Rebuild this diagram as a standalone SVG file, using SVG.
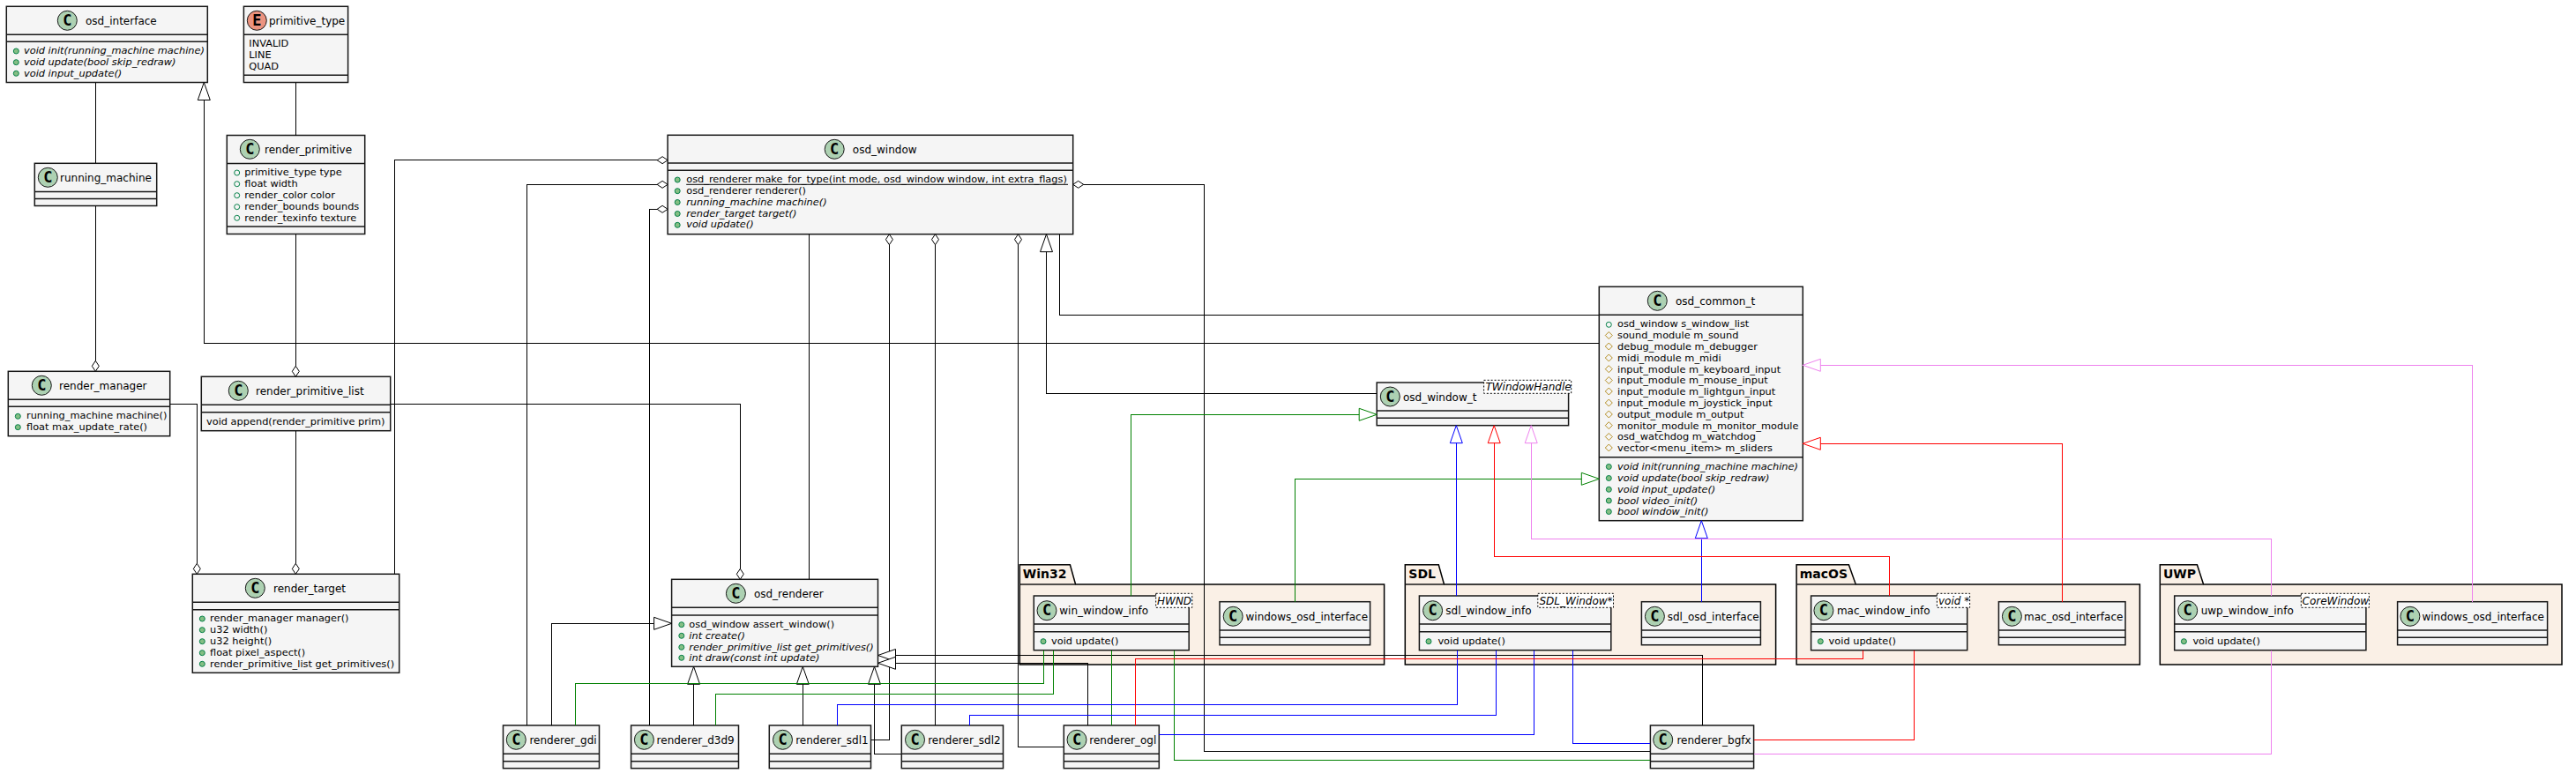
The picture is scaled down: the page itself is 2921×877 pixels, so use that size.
<svg xmlns="http://www.w3.org/2000/svg" width="2921" height="877" viewBox="0 0 2921 877">
<style>
text{font-family:"DejaVu Sans",sans-serif;fill:#000}
.b{fill:#F5F5F5;stroke:#181818;stroke-width:1.5}
.s{fill:none;stroke:#181818;stroke-width:1.5}
.c{fill:#ADD1B2;stroke:#181818;stroke-width:1}
.e{fill:#EB937F;stroke:#181818;stroke-width:1}
.C{font-family:"DejaVu Sans Mono",monospace;font-weight:bold;font-size:17px;text-anchor:middle}
.t{font-size:12px}
.m{font-size:11.35px}
.i{font-size:11.35px;font-style:italic}
.p{font-size:14px;font-weight:bold}
.g{font-size:12px;font-style:italic}
.tb{fill:#fff;stroke:#000;stroke-width:1;stroke-dasharray:2 2}
.k{fill:#FAF0E6;stroke:#000;stroke-width:1.5}
.l{fill:none;stroke-width:1;shape-rendering:crispEdges}
.lk{stroke:#000}.lg{stroke:#008000}.lb{stroke:#0000FF}.lr{stroke:#FF0000}.lv{stroke:#EE82EE}
.u{stroke:#000;stroke-width:1}
</style>
<defs>
<marker id="gk" markerUnits="userSpaceOnUse" markerWidth="24" markerHeight="18" refX="21" refY="8" orient="auto" overflow="visible"><path d="M1 1L21 8L1 15Z" fill="#fff" stroke="#000"/></marker>
<marker id="gg" markerUnits="userSpaceOnUse" markerWidth="24" markerHeight="18" refX="21" refY="8" orient="auto" overflow="visible"><path d="M1 1L21 8L1 15Z" fill="#fff" stroke="#008000"/></marker>
<marker id="gb" markerUnits="userSpaceOnUse" markerWidth="24" markerHeight="18" refX="21" refY="8" orient="auto" overflow="visible"><path d="M1 1L21 8L1 15Z" fill="#fff" stroke="#0000FF"/></marker>
<marker id="gr" markerUnits="userSpaceOnUse" markerWidth="24" markerHeight="18" refX="21" refY="8" orient="auto" overflow="visible"><path d="M1 1L21 8L1 15Z" fill="#fff" stroke="#FF0000"/></marker>
<marker id="gv" markerUnits="userSpaceOnUse" markerWidth="24" markerHeight="18" refX="21" refY="8" orient="auto" overflow="visible"><path d="M1 1L21 8L1 15Z" fill="#fff" stroke="#EE82EE"/></marker>
<marker id="dk" markerUnits="userSpaceOnUse" markerWidth="16" markerHeight="12" refX="13" refY="5" orient="auto" overflow="visible"><path d="M1 5L7 1L13 5L7 9Z" fill="#fff" stroke="#000"/></marker>
<circle id="pm" r="3" fill="#84BE84" stroke="#038048"/>
<circle id="pf" r="3" fill="none" stroke="#038048"/>
<path id="pr" d="M0 -4L4 0L0 4L-4 0Z" fill="none" stroke="#B38D22"/>
</defs>
<rect width="2921" height="877" fill="#fff"/>

<g id="pkg-Win32"><path class="k" d="M1156.3 663V640.7H1213.4L1219.6 663H1569.6V754H1156.3Z"/><path class="s" d="M1156.3 663H1219.6"/><text class="p" x="1159.8" y="656">Win32</text></g>
<g id="pkg-SDL"><path class="k" d="M1593.3 663V640.7H1631.3L1637.5 663H2013.6V754H1593.3Z"/><path class="s" d="M1593.3 663H1637.5"/><text class="p" x="1597.3" y="656">SDL</text></g>
<g id="pkg-macOS"><path class="k" d="M2037.1 663V640.7H2096.4L2104.3 663H2426.4V754H2037.1Z"/><path class="s" d="M2037.1 663H2104.3"/><text class="p" x="2040.7" y="656">macOS</text></g>
<g id="pkg-UWP"><path class="k" d="M2449.3 663V640.7H2491.4L2498.6 663H2905V754H2449.3Z"/><path class="s" d="M2449.3 663H2498.6"/><text class="p" x="2452.9" y="656">UWP</text></g>

<g id="osd_interface"><rect class="b" x="7.3" y="7.3" width="228" height="86.2"/><path class="s" d="M7.3 39.3H235.3M7.3 47.3H235.3"/><circle class="c" cx="76.3" cy="23.3" r="11"/><text class="C" x="76.3" y="29">C</text><text class="t" x="97" y="27.5">osd_interface</text>
<use href="#pm" x="18.3" y="58"/><text class="i" x="27" y="61">void init(running_machine machine)</text>
<use href="#pm" x="18.3" y="70.7"/><text class="i" x="27" y="74">void update(bool skip_redraw)</text>
<use href="#pm" x="18.3" y="83.3"/><text class="i" x="27" y="87">void input_update()</text></g>

<g id="primitive_type"><rect class="b" x="276.4" y="7.3" width="118.2" height="86.2"/><path class="s" d="M276.4 39.3H394.6M276.4 85.3H394.6"/><circle class="e" cx="291.3" cy="23.3" r="11"/><text class="C" x="291.3" y="29">E</text><text class="t" x="305" y="27.5">primitive_type</text>
<text class="m" x="282.3" y="53.3">INVALID</text><text class="m" x="282.3" y="66.3">LINE</text><text class="m" x="282.3" y="79">QUAD</text></g>

<g id="render_primitive"><rect class="b" x="257.3" y="153.5" width="156.4" height="112"/><path class="s" d="M257.3 185.5H413.7M257.3 257H413.7"/><circle class="c" cx="283.3" cy="169.3" r="11"/><text class="C" x="283.3" y="175">C</text><text class="t" x="300" y="173.5">render_primitive</text>
<use href="#pf" x="268.7" y="196"/><text class="m" x="277.3" y="199">primitive_type type</text>
<use href="#pf" x="268.7" y="208.7"/><text class="m" x="277.3" y="212">float width</text>
<use href="#pf" x="268.7" y="221.7"/><text class="m" x="277.3" y="225">render_color color</text>
<use href="#pf" x="268.7" y="234.7"/><text class="m" x="277.3" y="238">render_bounds bounds</text>
<use href="#pf" x="268.7" y="247.3"/><text class="m" x="277.3" y="250.5">render_texinfo texture</text></g>

<g id="running_machine"><rect class="b" x="39.3" y="185.3" width="138.4" height="48.2"/><path class="s" d="M39.3 217.5H177.7M39.3 225.5H177.7"/><circle class="c" cx="54.3" cy="201.3" r="11"/><text class="C" x="54.3" y="207">C</text><text class="t" x="68" y="205.5">running_machine</text></g>

<g id="render_manager"><rect class="b" x="9.3" y="421.3" width="183.4" height="73.4"/><path class="s" d="M9.3 453.3H192.7M9.3 461.3H192.7"/><circle class="c" cx="47.3" cy="437.3" r="11"/><text class="C" x="47.3" y="443">C</text><text class="t" x="67" y="441.5">render_manager</text>
<use href="#pm" x="20.3" y="472.3"/><text class="m" x="30" y="475.3">running_machine machine()</text>
<use href="#pm" x="20.3" y="484.7"/><text class="m" x="30" y="488.3">float max_update_rate()</text></g>

<g id="render_primitive_list"><rect class="b" x="228.3" y="427.3" width="214.4" height="61.4"/><path class="s" d="M228.3 459.3H442.7M228.3 467.7H442.7"/><circle class="c" cx="270.3" cy="443.3" r="11"/><text class="C" x="270.3" y="449">C</text><text class="t" x="290" y="447.5">render_primitive_list</text>
<text class="m" x="234" y="482">void append(render_primitive prim)</text></g>

<g id="render_target"><rect class="b" x="218.3" y="651.3" width="234.4" height="112"/><path class="s" d="M218.3 683.3H452.7M218.3 691.7H452.7"/><circle class="c" cx="289.3" cy="667.3" r="11"/><text class="C" x="289.3" y="673">C</text><text class="t" x="310" y="671.5">render_target</text>
<use href="#pm" x="229.3" y="702"/><text class="m" x="238" y="705">render_manager manager()</text>
<use href="#pm" x="229.3" y="714.7"/><text class="m" x="238" y="718">u32 width()</text>
<use href="#pm" x="229.3" y="727.7"/><text class="m" x="238" y="731">u32 height()</text>
<use href="#pm" x="229.3" y="740.7"/><text class="m" x="238" y="744">float pixel_aspect()</text>
<use href="#pm" x="229.3" y="753.3"/><text class="m" x="238" y="756.5">render_primitive_list get_primitives()</text></g>

<g id="osd_window"><rect class="b" x="757.1" y="153.3" width="459.6" height="112.4"/><path class="s" d="M757.1 185H1216.7M757.1 193.3H1216.7"/><circle class="c" cx="946.2" cy="169.3" r="11"/><text class="C" x="946.2" y="175">C</text><text class="t" x="966.8" y="173.5">osd_window</text>
<use href="#pm" x="768.2" y="204"/><text class="m" x="778.2" y="206.7">osd_renderer make_for_type(int mode, osd_window window, int extra_flags)</text><path class="u" d="M778.2 209.3H1211"/>
<use href="#pm" x="768.2" y="216.7"/><text class="m" x="778.2" y="219.7">osd_renderer renderer()</text>
<use href="#pm" x="768.2" y="229.5"/><text class="i" x="778.2" y="232.7">running_machine machine()</text>
<use href="#pm" x="768.2" y="242.5"/><text class="i" x="778.2" y="245.7">render_target target()</text>
<use href="#pm" x="768.2" y="255.3"/><text class="i" x="778.2" y="258">void update()</text></g>

<g id="osd_common_t"><rect class="b" x="1813.3" y="325.3" width="231" height="265.4"/><path class="s" d="M1813.3 357.3H2044.3M1813.3 518.7H2044.3"/><circle class="c" cx="1879.3" cy="341.3" r="11"/><text class="C" x="1879.3" y="347">C</text><text class="t" x="1900" y="345.5">osd_common_t</text>
<use href="#pf" x="1824.3" y="368.3"/><text class="m" x="1834" y="371">osd_window s_window_list</text>
<use href="#pr" x="1824.3" y="380.5"/><text class="m" x="1834" y="384">sound_module m_sound</text>
<use href="#pr" x="1824.3" y="393"/><text class="m" x="1834" y="397">debug_module m_debugger</text>
<use href="#pr" x="1824.3" y="406"/><text class="m" x="1834" y="410">midi_module m_midi</text>
<use href="#pr" x="1824.3" y="418.7"/><text class="m" x="1834" y="422.5">input_module m_keyboard_input</text>
<use href="#pr" x="1824.3" y="431.5"/><text class="m" x="1834" y="435">input_module m_mouse_input</text>
<use href="#pr" x="1824.3" y="444"/><text class="m" x="1834" y="448">input_module m_lightgun_input</text>
<use href="#pr" x="1824.3" y="457"/><text class="m" x="1834" y="461">input_module m_joystick_input</text>
<use href="#pr" x="1824.3" y="470"/><text class="m" x="1834" y="474">output_module m_output</text>
<use href="#pr" x="1824.3" y="482.7"/><text class="m" x="1834" y="486.5">monitor_module m_monitor_module</text>
<use href="#pr" x="1824.3" y="495.5"/><text class="m" x="1834" y="499">osd_watchdog m_watchdog</text>
<use href="#pr" x="1824.3" y="508"/><text class="m" x="1834" y="512">vector&lt;menu_item&gt; m_sliders</text>
<use href="#pm" x="1824.3" y="529.5"/><text class="i" x="1834" y="533">void init(running_machine machine)</text>
<use href="#pm" x="1824.3" y="542.5"/><text class="i" x="1834" y="546">void update(bool skip_redraw)</text>
<use href="#pm" x="1824.3" y="555.3"/><text class="i" x="1834" y="558.5">void input_update()</text>
<use href="#pm" x="1824.3" y="568"/><text class="i" x="1834" y="571.5">bool video_init()</text>
<use href="#pm" x="1824.3" y="580.5"/><text class="i" x="1834" y="584">bool window_init()</text></g>

<g id="osd_window_t"><rect class="b" x="1561.2" y="434" width="217.4" height="48.7"/><path class="s" d="M1561.2 466H1778.6M1561.2 474.3H1778.6"/><circle class="c" cx="1576.3" cy="450" r="11"/><text class="C" x="1576.3" y="455.7">C</text><text class="t" x="1591" y="454.5">osd_window_t</text>
<rect class="tb" x="1682.6" y="431.3" width="99.1" height="15"/><text class="g" x="1684.4" y="442.7">TWindowHandle</text></g>

<g id="osd_renderer"><rect class="b" x="761.6" y="657.3" width="233.9" height="99"/><path class="s" d="M761.6 689.3H995.5M761.6 698H995.5"/><circle class="c" cx="834.4" cy="673.3" r="11"/><text class="C" x="834.4" y="679">C</text><text class="t" x="854.9" y="677.5">osd_renderer</text>
<use href="#pm" x="772.8" y="708.7"/><text class="m" x="781.3" y="712">osd_window assert_window()</text>
<use href="#pm" x="772.8" y="721.3"/><text class="i" x="781.3" y="725">int create()</text>
<use href="#pm" x="772.8" y="734.3"/><text class="i" x="781.3" y="737.5">render_primitive_list get_primitives()</text>
<use href="#pm" x="772.8" y="746.3"/><text class="i" x="781.3" y="750">int draw(const int update)</text></g>

<g id="win_window_info"><rect class="b" x="1172.3" y="676" width="175.9" height="61.7"/><path class="s" d="M1172.3 708H1348.2M1172.3 716.7H1348.2"/><circle class="c" cx="1187" cy="692.7" r="11"/><text class="C" x="1187" y="698.4">C</text><text class="t" x="1201.3" y="696.7">win_window_info</text>
<rect class="tb" x="1310.7" y="673.3" width="41.1" height="16"/><text class="g" x="1312" y="685.7">HWND</text>
<use href="#pm" x="1183" y="727.7"/><text class="m" x="1192" y="730.7">void update()</text></g>

<g id="windows_osd_interface_win32"><rect class="b" x="1383" y="682.7" width="170.6" height="49"/><path class="s" d="M1383 715H1553.6M1383 723.3H1553.6"/><circle class="c" cx="1398.2" cy="699.3" r="11"/><text class="C" x="1398.2" y="705">C</text><text class="t" x="1412.5" y="703.5">windows_osd_interface</text></g>

<g id="sdl_window_info"><rect class="b" x="1609.4" y="676" width="217.4" height="61.7"/><path class="s" d="M1609.4 708H1826.8M1609.4 716.7H1826.8"/><circle class="c" cx="1624.6" cy="692.7" r="11"/><text class="C" x="1624.6" y="698.4">C</text><text class="t" x="1639.3" y="696.7">sdl_window_info</text>
<rect class="tb" x="1743.8" y="673.3" width="85.7" height="16"/><text class="g" x="1745.5" y="685.7">SDL_Window*</text>
<use href="#pm" x="1620" y="727.7"/><text class="m" x="1630.4" y="730.7">void update()</text></g>

<g id="sdl_osd_interface"><rect class="b" x="1861.4" y="682.7" width="135" height="49"/><path class="s" d="M1861.4 715H1996.4M1861.4 723.3H1996.4"/><circle class="c" cx="1876.4" cy="699.3" r="11"/><text class="C" x="1876.4" y="705">C</text><text class="t" x="1890.7" y="703.5">sdl_osd_interface</text></g>

<g id="mac_window_info"><rect class="b" x="2053.6" y="676" width="177.1" height="61.7"/><path class="s" d="M2053.6 708H2230.7M2053.6 716.7H2230.7"/><circle class="c" cx="2067.9" cy="692.7" r="11"/><text class="C" x="2067.9" y="698.4">C</text><text class="t" x="2082.9" y="696.7">mac_window_info</text>
<rect class="tb" x="2196.4" y="673.3" width="37.2" height="16"/><text class="g" x="2198" y="685.7">void *</text>
<use href="#pm" x="2064.3" y="727.7"/><text class="m" x="2073.6" y="730.7">void update()</text></g>

<g id="mac_osd_interface"><rect class="b" x="2266.4" y="682.7" width="143.6" height="49"/><path class="s" d="M2266.4 715H2410M2266.4 723.3H2410"/><circle class="c" cx="2281.4" cy="699.3" r="11"/><text class="C" x="2281.4" y="705">C</text><text class="t" x="2295" y="703.5">mac_osd_interface</text></g>

<g id="uwp_window_info"><rect class="b" x="2465.7" y="676" width="217.2" height="61.7"/><path class="s" d="M2465.7 708H2682.9M2465.7 716.7H2682.9"/><circle class="c" cx="2480.7" cy="692.7" r="11"/><text class="C" x="2480.7" y="698.4">C</text><text class="t" x="2495.7" y="696.7">uwp_window_info</text>
<rect class="tb" x="2609.3" y="673.3" width="77.1" height="16"/><text class="g" x="2610.5" y="685.7">CoreWindow</text>
<use href="#pm" x="2476.4" y="727.7"/><text class="m" x="2486.4" y="730.7">void update()</text></g>

<g id="windows_osd_interface_uwp"><rect class="b" x="2718.6" y="682.7" width="170" height="49"/><path class="s" d="M2718.6 715H2888.6M2718.6 723.3H2888.6"/><circle class="c" cx="2732.9" cy="699.3" r="11"/><text class="C" x="2732.9" y="705">C</text><text class="t" x="2746.4" y="703.5">windows_osd_interface</text></g>

<g id="renderer_gdi"><rect class="b" x="570.5" y="823" width="109" height="48.7"/><path class="s" d="M570.5 855.3H679.5M570.5 863.7H679.5"/><circle class="c" cx="585.3" cy="839.3" r="11"/><text class="C" x="585.3" y="845">C</text><text class="t" x="600.4" y="843.5">renderer_gdi</text></g>
<g id="renderer_d3d9"><rect class="b" x="715.6" y="823" width="121.9" height="48.7"/><path class="s" d="M715.6 855.3H837.5M715.6 863.7H837.5"/><circle class="c" cx="730.4" cy="839.3" r="11"/><text class="C" x="730.4" y="845">C</text><text class="t" x="744.6" y="843.5">renderer_d3d9</text></g>
<g id="renderer_sdl1"><rect class="b" x="872.3" y="823" width="115.2" height="48.7"/><path class="s" d="M872.3 855.3H987.5M872.3 863.7H987.5"/><circle class="c" cx="887.5" cy="839.3" r="11"/><text class="C" x="887.5" y="845">C</text><text class="t" x="902.2" y="843.5">renderer_sdl1</text></g>
<g id="renderer_sdl2"><rect class="b" x="1022.3" y="823" width="115.2" height="48.7"/><path class="s" d="M1022.3 855.3H1137.5M1022.3 863.7H1137.5"/><circle class="c" cx="1037.5" cy="839.3" r="11"/><text class="C" x="1037.5" y="845">C</text><text class="t" x="1052.2" y="843.5">renderer_sdl2</text></g>
<g id="renderer_ogl"><rect class="b" x="1206.3" y="823" width="108" height="48.7"/><path class="s" d="M1206.3 855.3H1314.3M1206.3 863.7H1314.3"/><circle class="c" cx="1221" cy="839.3" r="11"/><text class="C" x="1221" y="845">C</text><text class="t" x="1235.3" y="843.5">renderer_ogl</text></g>
<g id="renderer_bgfx"><rect class="b" x="1871.4" y="823" width="117.2" height="48.7"/><path class="s" d="M1871.4 855.3H1988.6M1871.4 863.7H1988.6"/><circle class="c" cx="1885.7" cy="839.3" r="11"/><text class="C" x="1885.7" y="845">C</text><text class="t" x="1901.4" y="843.5">renderer_bgfx</text></g>

<g id="connectors">
<path class="l lk" d="M108.3 93.5V185.3"/>
<path class="l lk" marker-end="url(#dk)" d="M108.3 233.5V421.3"/>
<path class="l lk" marker-end="url(#gk)" d="M1813.3 389.3H231.3V93.5"/>
<path class="l lk" d="M1813.3 357.3H1201.4V265.7"/>
<path class="l lk" d="M335.3 93.5V153.5"/>
<path class="l lk" marker-end="url(#dk)" d="M335.3 265.5V427.3"/>
<path class="l lk" marker-end="url(#dk)" d="M335.3 488.7V651.3"/>
<path class="l lk" marker-end="url(#dk)" d="M192.7 458.7H223.3V651.3"/>
<path class="l lk" marker-end="url(#dk)" d="M442.7 458.7H839.3V657.3"/>
<path class="l lk" marker-end="url(#dk)" d="M447.3 651.3V181.7H757.1"/>
<path class="l lk" marker-end="url(#dk)" d="M597.3 823V209.3H757.1"/>
<path class="l lk" marker-end="url(#dk)" d="M736.6 823V237.3H757.1"/>
<path class="l lk" marker-end="url(#dk)" d="M1871.4 852.3H1365.6V209.3H1216.7"/>
<path class="l lk" d="M917.4 265.7V657.3"/>
<path class="l lk" marker-end="url(#dk)" d="M987.5 839.3H1008.4V265.7"/>
<path class="l lk" marker-end="url(#dk)" d="M1060.5 823V265.7"/>
<path class="l lk" marker-end="url(#dk)" d="M1206.3 847.3H1154.5V265.7"/>
<path class="l lk" marker-end="url(#gk)" d="M1561.2 446H1186.5V265.7"/>
<path class="l lk" marker-end="url(#gk)" d="M625.4 823V707.3H761.6"/>
<path class="l lk" marker-end="url(#gk)" d="M786.6 823V756.3"/>
<path class="l lk" marker-end="url(#gk)" d="M910.3 823V756.3"/>
<path class="l lk" marker-end="url(#gk)" d="M1022.3 855.3H991.5V756.3"/>
<path class="l lk" marker-end="url(#gk)" d="M1930.7 823V743.5H995.5"/>
<path class="l lk" marker-end="url(#gk)" d="M1233.5 823V752.3H995.5"/>
<path class="l lg" marker-end="url(#gg)" d="M1282.6 676V470.3H1561.2"/>
<path class="l lg" marker-end="url(#gg)" d="M1468.3 682.7V543.3H1813.3"/>
<path class="l lg" d="M1183.5 737.7V775.3H652.2V823"/>
<path class="l lg" d="M1194.6 737.7V787.3H811.2V823"/>
<path class="l lg" d="M1260.3 737.7V823"/>
<path class="l lg" d="M1331.3 737.7V862.3H1871.4"/>
<path class="l lb" marker-end="url(#gb)" d="M1651.3 676V482.7"/>
<path class="l lb" marker-end="url(#gb)" d="M1929.3 682.7V590.7"/>
<path class="l lb" d="M1652.7 737.7V799.3H949.6V823"/>
<path class="l lb" d="M1696.4 737.7V811.3H1099.6V823"/>
<path class="l lb" d="M1739.7 737.7V833.3H1314.3"/>
<path class="l lb" d="M1783.5 737.7V843.3H1871.4"/>
<path class="l lr" marker-end="url(#gr)" d="M2142.1 676V631H1694.2V482.7"/>
<path class="l lr" marker-end="url(#gr)" d="M2338.6 682.7V503.3H2044.3"/>
<path class="l lr" d="M2112.1 737.7V747.3H1287.5V823"/>
<path class="l lr" d="M2170.7 737.7V839.3H1988.6"/>
<path class="l lv" marker-end="url(#gv)" d="M2575 676V611.3H1736.2V482.7"/>
<path class="l lv" marker-end="url(#gv)" d="M2803.6 682.7V414.3H2044.3"/>
<path class="l lv" d="M2575 737.7V855.3H1988.6"/>
</g>
</svg>
